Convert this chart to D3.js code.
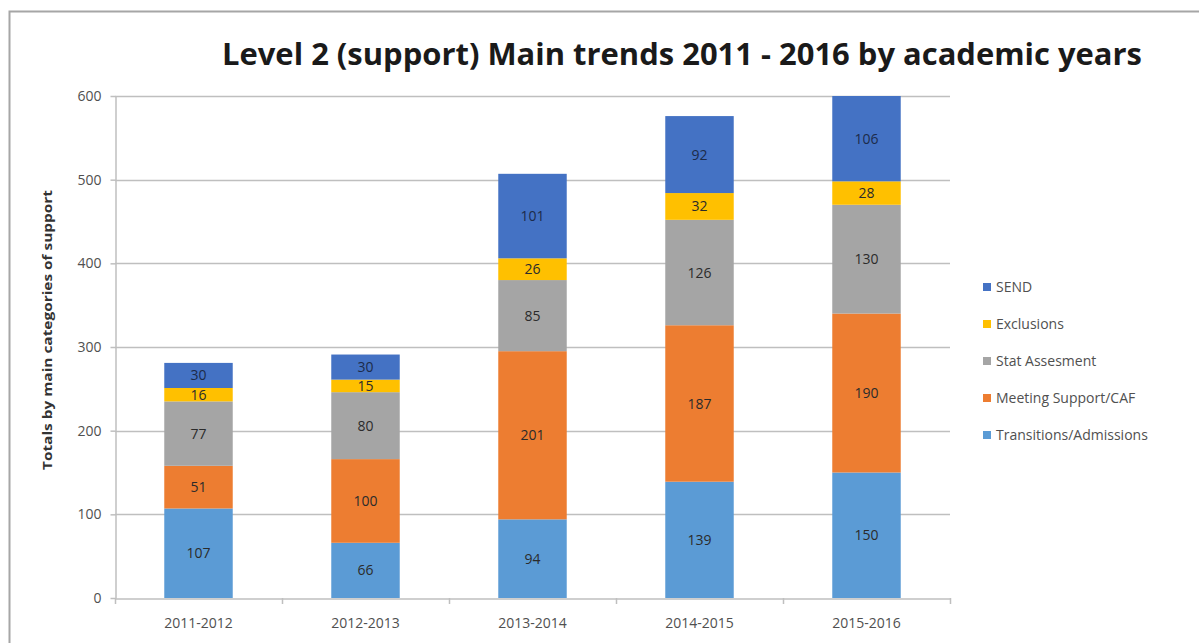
<!DOCTYPE html>
<html>
<head>
<meta charset="utf-8">
<script src="https://cdn.jsdelivr.net/npm/d3@7"></script>
<style>
  html, body { margin: 0; padding: 0; background: #fff; }
  svg { display: block; }
</style>
</head>
<body>
<svg id="chart" width="1199" height="643"></svg>
<script>
// Academic years on the x axis
const years = ["2011-2012", "2012-2013", "2013-2014", "2014-2015", "2015-2016"];

// Support categories, bottom of the stack first
const categories = ["Transitions/Admissions", "Meeting Support/CAF", "Stat Assesment", "Exclusions", "SEND"];

// Counts per category, one entry per academic year
const transitions = [107, 66, 94, 139, 150];
const meetingSupport = [51, 100, 201, 187, 190];
const statAssessment = [77, 80, 85, 126, 130];
const exclusions = [16, 15, 26, 32, 28];
const send = [30, 30, 101, 92, 106];

const yTicks = [0, 100, 200, 300, 400, 500, 600];

const colors = ["#5B9BD5", "#ED7D31", "#A5A5A5", "#FFC000", "#4472C4"];

const seriesValues = [transitions, meetingSupport, statAssessment, exclusions, send];
const rows = years.map((yr, i) => {
  const r = { year: yr };
  categories.forEach((c, k) => { r[c] = seriesValues[k][i]; });
  return r;
});

const svg = d3.select("#chart");
const plotLeft = 115, plotRight = 950, plotTop = 96, plotBottom = 598;
const font = "'Open Sans', 'DejaVu Sans', sans-serif";

// Outer chart frame (runs off the right and bottom edges)
svg.append("rect")
  .attr("x", 9.5).attr("y", 11.5)
  .attr("width", 1300).attr("height", 800)
  .attr("fill", "none").attr("stroke", "#a6a6a6").attr("stroke-width", 2);

const x = d3.scaleBand().domain(years).range([plotLeft, plotRight])
  .paddingInner(0.59).paddingOuter(0.295);
const y = d3.scaleLinear().domain([0, 600]).range([plotBottom, plotTop]);

// Horizontal gridlines
svg.append("g").selectAll("line")
  .data(yTicks.filter(t => t > 0))
  .join("line")
  .attr("x1", plotLeft).attr("x2", plotRight)
  .attr("y1", d => Math.round(y(d)) + 0.5).attr("y2", d => Math.round(y(d)) + 0.5)
  .attr("stroke", "#bfbfbf").attr("stroke-width", 1.5);

// Stacked bars, clipped to the plot area
svg.append("clipPath").attr("id", "plotClip")
  .append("rect").attr("x", plotLeft).attr("y", plotTop)
  .attr("width", plotRight - plotLeft).attr("height", plotBottom - plotTop);

const stacked = d3.stack().keys(categories)(rows);

const layers = svg.append("g").attr("clip-path", "url(#plotClip)")
  .selectAll("g").data(stacked).join("g")
  .attr("fill", (d, i) => colors[i]);

layers.selectAll("rect").data(d => d).join("rect")
  .attr("x", d => x(d.data.year))
  .attr("width", x.bandwidth())
  .attr("y", d => y(d[1]))
  .attr("height", d => y(d[0]) - y(d[1]));

// Value labels centred in each segment
const labels = svg.append("g")
  .attr("font-family", font)
  .attr("font-size", 14)
  .attr("text-anchor", "middle");

stacked.forEach((layer, k) => {
  labels.append("g").selectAll("text").data(layer).join("text")
    .attr("x", d => x(d.data.year) + x.bandwidth() / 2)
    .attr("y", d => (y(d[0]) + y(Math.min(d[1], 600))) / 2)
    .attr("dy", "0.36em")
    .attr("fill", k === 4 ? "#1c2b4a" : "#2b2b2b")
    .text(d => d.data[categories[k]]);
});

// Y axis
const yAxis = svg.append("g")
  .attr("transform", `translate(${plotLeft + 0.5},0)`)
  .call(d3.axisLeft(y).tickValues(yTicks).tickSize(5).tickPadding(9).tickSizeOuter(0));
yAxis.select(".domain").attr("stroke", "#bfbfbf").attr("stroke-width", 1.5);
yAxis.selectAll(".tick line").attr("stroke", "#bfbfbf").attr("stroke-width", 1.5);
yAxis.selectAll(".tick text")
  .attr("font-family", font)
  .attr("font-size", 14).attr("fill", "#505050");

// X axis
const xAxis = svg.append("g")
  .attr("transform", `translate(0,${plotBottom + 0.5})`)
  .call(d3.axisBottom(x).tickSize(0).tickPadding(20));
xAxis.select(".domain").attr("stroke", "#bfbfbf").attr("stroke-width", 1.5);
xAxis.selectAll(".tick text")
  .attr("font-family", font)
  .attr("font-size", 14).attr("fill", "#505050");

// Category boundary ticks below the x axis
const boundaries = years.map(yr => x(yr) - x.step() * x.paddingInner() / 2).concat([plotRight]);
svg.append("g").selectAll("line").data(boundaries).join("line")
  .attr("x1", d => Math.round(d) + 0.5).attr("x2", d => Math.round(d) + 0.5)
  .attr("y1", plotBottom).attr("y2", plotBottom + 6)
  .attr("stroke", "#bfbfbf").attr("stroke-width", 1.5);

// Y axis title
svg.append("text")
  .attr("transform", "translate(52,330) rotate(-90)")
  .attr("text-anchor", "middle")
  .attr("font-family", font)
  .attr("font-size", 13).attr("font-weight", "bold").attr("fill", "#333333")
  .attr("textLength", 280).attr("lengthAdjust", "spacingAndGlyphs")
  .text("Totals  by main categories of support");

// Chart title
svg.append("text")
  .attr("x", 682).attr("y", 65)
  .attr("text-anchor", "middle")
  .attr("font-family", font)
  .attr("font-size", 30).attr("font-weight", "bold").attr("fill", "#1a1a1a")
  .attr("textLength", 920).attr("lengthAdjust", "spacingAndGlyphs")
  .text("Level 2 (support) Main trends 2011 - 2016 by academic years");

// Legend, top entry is the top of the stack
const legendItems = categories.map((c, i) => ({ name: c, color: colors[i] })).reverse();
const lg = svg.append("g").selectAll("g").data(legendItems).join("g")
  .attr("transform", (d, i) => `translate(983,${287 + i * 37})`);
lg.append("rect").attr("x", 0).attr("y", -4).attr("width", 8).attr("height", 8)
  .attr("fill", d => d.color);
lg.append("text").attr("x", 13).attr("dy", "0.36em")
  .attr("font-family", font)
  .attr("font-size", 14).attr("fill", "#505050")
  .text(d => d.name);
</script>
</body>
</html>
